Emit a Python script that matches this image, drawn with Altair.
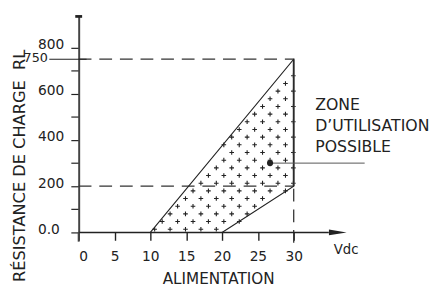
import altair as alt
import pandas as pd
import numpy as np

# ---- data ----
x_ticks = [0, 5, 10, 15, 20, 25, 30]
y_ticks = [0, 100, 200, 300, 400, 500, 600, 700, 800]
zone_x = [10, 30, 30, 20]          # usable zone outline (Vdc)
zone_y = [0, 750, 200, 0]          # usable zone outline (ohm)
r_high = 750
r_low = 200
v_max = 30
marker_x = [26.7]
marker_y = [300]
callout_end_x = 39.9
zone_lines = ["ZONE", "D\u2019UTILISATION", "POSSIBLE"]
zone_line_y = [530, 438, 350]
zone_text_x = 33.0

FONT = "DejaVu Sans"
INK = "#222222"

xscale = alt.Scale(domain=[0, 40], nice=False, zero=False)
yscale = alt.Scale(domain=[0, 935], nice=False, zero=False)

xaxis = alt.Axis(
    values=x_ticks, domain=False, grid=False, tickSize=8, tickColor=INK, tickWidth=1.4,
    labelFont=FONT, labelFontSize=14, labelColor=INK, labelPadding=10,
    title="ALIMENTATION", titleFont=FONT, titleFontSize=15.5, titleFontWeight="normal",
    titleColor=INK, titleX=142, titleY=52, titleAlign="center", titleBaseline="alphabetic")
yaxis = alt.Axis(
    values=y_ticks, grid=False, domainWidth=2, domainColor="#444444",
    tickSize=8, tickColor=INK, tickWidth=1.2,
    labelExpr="datum.value == 0 ? '0.0' : (datum.value % 200 == 0 ? datum.label : '')",
    labelFont=FONT, labelFontSize=14, labelColor=INK, labelAlign="left",
    labelPadding=34, labelBaseline="middle", labelOffset=-3,
    title="R\u00c9SISTANCE DE CHARGE\u00a0\u00a0RL", titleFont=FONT, titleFontSize=16.5,
    titleFontWeight="normal", titleColor=INK, titleAngle=270, titleX=-55, titleY=270,
    titleAlign="left", titleBaseline="alphabetic")

def X(f):
    return alt.X(f, scale=xscale, axis=xaxis)
def Y(f):
    return alt.Y(f, scale=yscale, axis=yaxis)

# ---- hatch texture of "+" marks filling the zone ----
def inside(x, y):
    xl = 10 + 20 * y / 750
    xr = 20 + 10 * y / 200 if y < 200 else 30
    return (x > xl + 0.1) and (x < xr + 0.1) and y < 750
pat = []
for j in range(23):
    yy = 14 + 33.2 * j
    x0 = 10.6 + (1.05 if j % 2 else 0)
    for i in range(12):
        xx = x0 + 2.15 * i
        if inside(xx, yy):
            pat.append({"x": xx, "y": yy})
pattern = pd.DataFrame(pat)

zone = pd.DataFrame({"x": zone_x, "y": zone_y, "o": list(range(len(zone_x)))})

hlines = alt.Chart(pd.DataFrame({"y": [r_high, r_low], "x0": [0, 0], "x1": [v_max, v_max]})).mark_rule(
    strokeDash=[13, 8], color="#333333", strokeWidth=1.3).encode(x=X("x0:Q"), x2="x1", y=Y("y:Q"))

vline = alt.Chart(pd.DataFrame({"x": [v_max], "y0": [-45], "y1": [r_low]})).mark_rule(
    strokeDash=[13, 8], color="#333333", strokeWidth=1.3).encode(x=X("x:Q"), y=Y("y0:Q"), y2="y1")

edge = alt.Chart(pd.DataFrame({"x": [v_max], "y0": [r_low], "y1": [r_high]})).mark_rule(
    color="#555555", strokeWidth=2).encode(x=X("x:Q"), y=Y("y0:Q"), y2="y1")

outline = alt.Chart(zone).mark_line(color=INK, strokeWidth=1.1).encode(
    x=X("x:Q"), y=Y("y:Q"), order="o:Q")

crosses = alt.Chart(pattern).mark_point(
    shape="M-1,0L1,0M0,-1L0,1", size=22, filled=False, color=INK, strokeWidth=1.1, opacity=1
).encode(x=X("x:Q"), y=Y("y:Q"))

leader750 = alt.Chart(pd.DataFrame({"x0": [-4.1], "x1": [1.1], "y": [r_high]})).mark_rule(
    color=INK, strokeWidth=1.1).encode(x=X("x0:Q"), x2="x1", y=Y("y:Q"))
label750 = alt.Chart(pd.DataFrame({"x": [-4.3], "y": [r_high], "t": ["750"]})).mark_text(
    font=FONT, fontSize=13, color=INK, align="right", baseline="middle", dy=-1
).encode(x=X("x:Q"), y=Y("y:Q"), text="t:N")

xaxis_line = alt.Chart(pd.DataFrame({"x0": [0], "x1": [34.9], "y": [0]})).mark_rule(
    color=INK, strokeWidth=1.5).encode(x=X("x0:Q"), x2="x1", y=Y("y:Q"))
arrow = alt.Chart(pd.DataFrame({"x": [36.15], "y": [0]})).mark_point(
    shape="M-1,-0.33L1,0L-1,0.33Z", size=324, filled=True, color=INK, opacity=1
).encode(x=X("x:Q"), y=Y("y:Q"))
vdc = alt.Chart(pd.DataFrame({"x": [37.3], "y": [-76], "t": ["Vdc"]})).mark_text(
    font=FONT, fontSize=13.5, color=INK, align="center", baseline="middle"
).encode(x=X("x:Q"), y=Y("y:Q"), text="t:N")

ytail = alt.Chart(pd.DataFrame({"x": [0], "y0": [-40], "y1": [0]})).mark_rule(
    color="#444444", strokeWidth=2).encode(x=X("x:Q"), y=Y("y0:Q"), y2="y1")
ytop = alt.Chart(pd.DataFrame({"x": [0], "y": [935]})).mark_point(
    shape="M-1,-0.4L1,-0.4L1,0.4L-1,0.4Z", size=49, filled=True, color=INK, opacity=1
).encode(x=X("x:Q"), y=Y("y:Q"))

callout = alt.Chart(pd.DataFrame({"x0": marker_x, "x1": [callout_end_x], "y": marker_y})).mark_rule(
    color="#555555", strokeWidth=1).encode(x=X("x0:Q"), x2="x1", y=Y("y:Q"))
dot = alt.Chart(pd.DataFrame({"x": marker_x, "y": marker_y})).mark_point(
    filled=True, size=40, color=INK, opacity=1).encode(x=X("x:Q"), y=Y("y:Q"))

zone_txt = alt.Chart(pd.DataFrame({"x": [zone_text_x] * 3, "y": zone_line_y, "t": zone_lines})).mark_text(
    font=FONT, fontSize=16, color=INK, align="left", baseline="alphabetic"
).encode(x=X("x:Q"), y=Y("y:Q"), text="t:N")

chart = alt.layer(
    crosses, hlines, vline, edge, outline, leader750, label750,
    xaxis_line, arrow, vdc, ytail, ytop, callout, dot, zone_txt
).properties(
    width=292, height=220,
    autosize=alt.AutoSizeParams(type="none"),
    padding={"left": 72, "top": 6, "right": 76, "bottom": 53},
    background="white",
).configure_view(strokeWidth=0)

chart.save("out.html", embed_options={"renderer": "svg", "actions": False})
